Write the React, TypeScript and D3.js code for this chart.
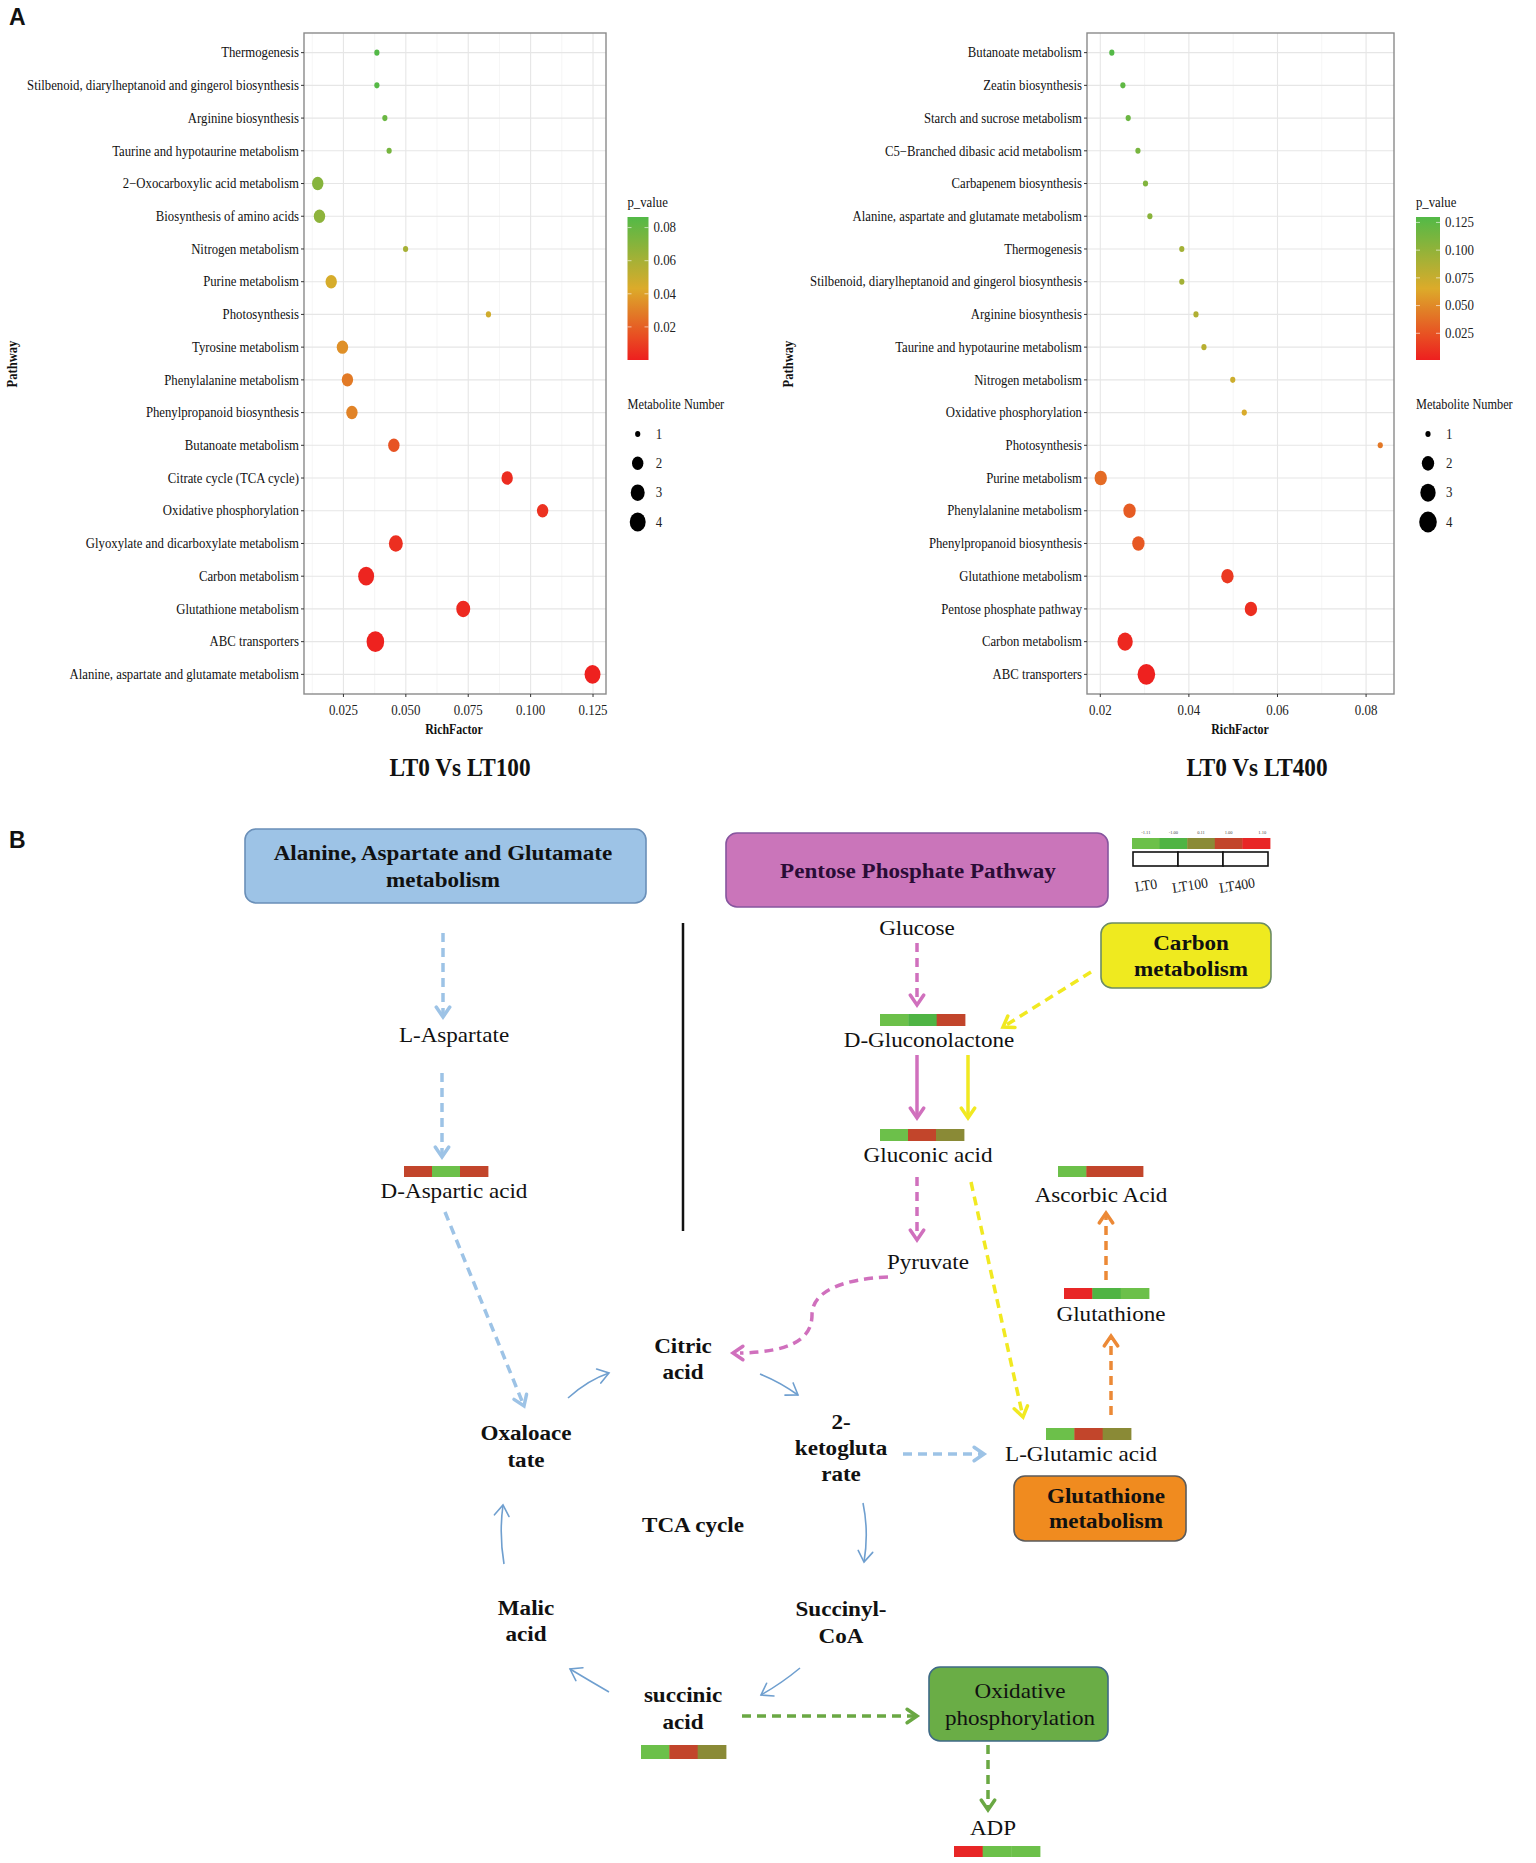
import React from 'react';
import * as d3 from 'd3';

// ---------------- DATA: panel A, LT0 vs LT100 ----------------
const lt100Pathways = [
  'Thermogenesis',
  'Stilbenoid, diarylheptanoid and gingerol biosynthesis',
  'Arginine biosynthesis',
  'Taurine and hypotaurine metabolism',
  '2\u2212Oxocarboxylic acid metabolism',
  'Biosynthesis of amino acids',
  'Nitrogen metabolism',
  'Purine metabolism',
  'Photosynthesis',
  'Tyrosine metabolism',
  'Phenylalanine metabolism',
  'Phenylpropanoid biosynthesis',
  'Butanoate metabolism',
  'Citrate cycle (TCA cycle)',
  'Oxidative phosphorylation',
  'Glyoxylate and dicarboxylate metabolism',
  'Carbon metabolism',
  'Glutathione metabolism',
  'ABC transporters',
  'Alanine, aspartate and glutamate metabolism',
];
const lt100RichFactor = [0.0384, 0.0384, 0.0416, 0.0433, 0.0147, 0.0154, 0.0499, 0.0201, 0.0831, 0.0246,
  0.0266, 0.0284, 0.0452, 0.0906, 0.1048, 0.046, 0.0341, 0.073, 0.0378, 0.1248];
const lt100PValue = [0.086, 0.085, 0.079, 0.075, 0.07, 0.068, 0.06, 0.045, 0.047, 0.035,
  0.028, 0.031, 0.016, 0.004, 0.006, 0.005, 0.002, 0.003, 0.001, 0.0005];
const lt100Count = [1, 1, 1, 1, 2, 2, 1, 2, 1, 2, 2, 2, 2, 2, 2, 3, 4, 3, 5, 4];
const lt100XTicks = [0.025, 0.05, 0.075, 0.1, 0.125];
const lt100PTicks = [0.02, 0.04, 0.06, 0.08];

// ---------------- DATA: panel A, LT0 vs LT400 ----------------
const lt400Pathways = [
  'Butanoate metabolism',
  'Zeatin biosynthesis',
  'Starch and sucrose metabolism',
  'C5\u2212Branched dibasic acid metabolism',
  'Carbapenem biosynthesis',
  'Alanine, aspartate and glutamate metabolism',
  'Thermogenesis',
  'Stilbenoid, diarylheptanoid and gingerol biosynthesis',
  'Arginine biosynthesis',
  'Taurine and hypotaurine metabolism',
  'Nitrogen metabolism',
  'Oxidative phosphorylation',
  'Photosynthesis',
  'Purine metabolism',
  'Phenylalanine metabolism',
  'Phenylpropanoid biosynthesis',
  'Glutathione metabolism',
  'Pentose phosphate pathway',
  'Carbon metabolism',
  'ABC transporters',
];
const lt400RichFactor = [0.0226, 0.0251, 0.0263, 0.0285, 0.0302, 0.0312, 0.0384, 0.0384, 0.0416, 0.0434,
  0.0499, 0.0525, 0.0832, 0.0201, 0.0266, 0.0286, 0.0487, 0.054, 0.0256, 0.0304];
const lt400PValue = [0.129, 0.124, 0.118, 0.112, 0.108, 0.104, 0.092, 0.092, 0.086, 0.082,
  0.073, 0.067, 0.042, 0.036, 0.029, 0.027, 0.013, 0.008, 0.005, 0.002];
const lt400Count = [1, 1, 1, 1, 1, 1, 1, 1, 1, 1, 1, 1, 1, 2, 2, 2, 2, 2, 3, 4];
const lt400XTicks = [0.02, 0.04, 0.06, 0.08];
const lt400PTicks = [0.025, 0.05, 0.075, 0.1, 0.125];

const legendCounts = [1, 2, 3, 4];

// ---------------- DATA: panel B heat bars ----------------
const heatGroups = ['LT0', 'LT100', 'LT400'];
const heatLegendLabels = ['-1.11', '-1.00', '0.11', '1.00', '1.10'];
const metaboliteNames = ['D-Aspartic acid', 'D-Gluconolactone', 'Gluconic acid', 'Ascorbic Acid',
  'Glutathione', 'L-Glutamic acid', 'succinic acid', 'ADP'];
const metaboliteLT0 = [0.6, -0.9, -0.9, -0.9, 0.9, -0.9, -0.9, 0.9];
const metaboliteLT100 = [-0.9, -0.5, 0.5, 0.5, -0.5, 0.5, 0.5, -0.9];
const metaboliteLT400 = [0.6, 0.5, 0.0, 0.5, -0.9, 0.0, 0.0, -0.9];

// ---------------- STYLE ----------------
const SERIF = '"Liberation Serif", "Times New Roman", Times, serif';
const SANS = '"Liberation Sans", Arial, Helvetica, sans-serif';
const P_LOW = '#ee1f1f';
const P_MID = '#dcab2a';
const P_HIGH = '#52b947';
const heatColors = ['#6cc04a', '#4fb444', '#8a8a36', '#c2452b', '#e82626'];

function T({ x, y, children, size = 14, sx = 1, sy = 1, anchor = 'middle', bold = false, fill = '#111',
  family = SERIF, rotate = 0 }: any) {
  return (
    <text transform={`translate(${x},${y})${rotate ? ` rotate(${rotate})` : ''} scale(${sx},${sy})`}
      textAnchor={anchor} dominantBaseline="central" fontFamily={family} fontWeight={bold ? 'bold' : 'normal'}
      fontSize={size} fill={fill}>{children}</text>
  );
}

function DotPanel(p: any) {
  const x = d3.scaleLinear().domain(p.xDomain).range([p.left, p.right]);
  const y = d3.scalePoint<string>().domain(p.pathways).range([p.top, p.bottom]).padding(0.6);
  const pMid = (p.pDomain[0] + p.pDomain[1]) / 2;
  const color = d3.scaleLinear<string>().domain([p.pDomain[0], pMid, p.pDomain[1]])
    .range([P_LOW, P_MID, P_HIGH]).clamp(true);
  const maxCount = d3.max(p.count as number[]) as number;
  const size = d3.scaleSqrt().domain([0, maxCount - 1]).range([1, 6]);
  const rx = (c: number) => 1.36 + 1.24 * size(c - 1);
  const ASP = 1.18;
  const step = p.xTicks[1] - p.xTicks[0];
  const minor = d3.range(p.xTicks[0] - step / 2, p.xDomain[1], step).filter((v: number) => v > p.xDomain[0]);
  const cb = d3.scaleLinear().domain(p.pDomain).range([p.cbBottom, p.cbTop]);
  const stops = d3.range(0, 1.0001, 0.05);
  const gid = 'grad-' + p.id;
  const data = p.pathways.map((name: string, i: number) => ({
    name, rf: p.rich[i], pv: p.pval[i], n: p.count[i],
  }));
  const legY = d3.scalePoint<number>().domain(legendCounts).range([434, 522]);
  const FS = 14;
  const SX = 0.91;
  return (
    <g>
      <defs>
        <linearGradient id={gid} x1="0" y1="1" x2="0" y2="0">
          {stops.map((t: number) => (
            <stop key={t} offset={t} stopColor={color(p.pDomain[0] + t * (p.pDomain[1] - p.pDomain[0]))} />
          ))}
        </linearGradient>
      </defs>
      <rect x={p.left} y={p.top} width={p.right - p.left} height={p.bottom - p.top} fill="#fff" />
      {minor.map((v: number) => (
        <line key={'mi' + v} x1={x(v)} x2={x(v)} y1={p.top} y2={p.bottom} stroke="#f3f3f3" strokeWidth={0.8} />
      ))}
      {p.xTicks.map((v: number) => (
        <line key={'mj' + v} x1={x(v)} x2={x(v)} y1={p.top} y2={p.bottom} stroke="#e6e6e6" strokeWidth={1.1} />
      ))}
      {p.pathways.map((c: string) => (
        <line key={'hg' + c} x1={p.left} x2={p.right} y1={y(c)} y2={y(c)} stroke="#e6e6e6" strokeWidth={1.1} />
      ))}
      {data.map((d: any) => (
        <ellipse key={'pt' + d.name} cx={x(d.rf)} cy={y(d.name)} rx={rx(d.n)} ry={rx(d.n) * ASP}
          fill={color(d.pv)} />
      ))}
      <rect x={p.left} y={p.top} width={p.right - p.left} height={p.bottom - p.top} fill="none"
        stroke="#8a8a8a" strokeWidth={1.4} />
      {p.pathways.map((c: string) => (
        <g key={'yt' + c}>
          <line x1={p.left - 3} x2={p.left} y1={y(c)} y2={y(c)} stroke="#333" strokeWidth={1} />
          <T x={p.left - 5} y={y(c)} anchor="end" size={FS} sx={SX}>{c}</T>
        </g>
      ))}
      {p.xTicks.map((v: number) => (
        <g key={'xt' + v}>
          <line x1={x(v)} x2={x(v)} y1={p.bottom} y2={p.bottom + 3} stroke="#333" strokeWidth={1} />
          <T x={x(v)} y={p.bottom + 16} size={14.5} sx={0.89} fill="#222">{d3.format(p.xFmt)(v)}</T>
        </g>
      ))}
      <T x={p.richX} y={729} bold size={14} sx={0.85}>RichFactor</T>
      <T x={p.pathX} y={364} bold size={14} sx={0.9} rotate={-90}>Pathway</T>
      <T x={p.titleX} y={767} bold size={25} sx={0.93}>{p.title}</T>
      {/* colour bar */}
      <T x={p.cbX} y={202} anchor="start" size={FS} sx={SX}>p_value</T>
      <rect x={p.cbX} y={p.cbTop} width={p.cbW} height={p.cbBottom - p.cbTop} fill={`url(#${gid})`} />
      {p.pTicks.map((v: number) => (
        <g key={'pt' + v}>
          <line x1={p.cbX} x2={p.cbX + 4} y1={cb(v)} y2={cb(v)} stroke="#fff" strokeOpacity={0.6} />
          <line x1={p.cbX + p.cbW - 4} x2={p.cbX + p.cbW} y1={cb(v)} y2={cb(v)} stroke="#fff" strokeOpacity={0.6} />
          <T x={p.cbX + p.cbW + 5} y={cb(v)} anchor="start" size={14.5} sx={0.89} fill="#222">{d3.format(p.pFmt)(v)}</T>
        </g>
      ))}
      {/* size legend */}
      <T x={p.cbX} y={404} anchor="start" size={FS} sx={0.88}>Metabolite Number</T>
      {legendCounts.map((c) => (
        <g key={'lg' + c}>
          <ellipse cx={p.legX} cy={legY(c)} rx={rx(c)} ry={rx(c) * ASP} fill="#000" />
          <T x={p.legX + 18} y={legY(c)} anchor="start" size={14.5} sx={0.89} fill="#222">{c}</T>
        </g>
      ))}
    </g>
  );
}

function chevron(tx: number, ty: number, ang: number, len: number, spread: number) {
  const a1 = ang + Math.PI - spread;
  const a2 = ang + Math.PI + spread;
  return `M${tx + len * Math.cos(a1)},${ty + len * Math.sin(a1)}L${tx},${ty}L${tx + len * Math.cos(a2)},${ty + len * Math.sin(a2)}`;
}

type ArrowSpec = { d: string; tip: [number, number]; from: [number, number]; color: string; w: number; dash?: string; head?: number };

function Arrow({ a }: { a: ArrowSpec }) {
  const ang = Math.atan2(a.tip[1] - a.from[1], a.tip[0] - a.from[0]);
  const head = a.head ?? 12;
  return (
    <g>
      <path d={a.d} fill="none" stroke={a.color} strokeWidth={a.w} strokeDasharray={a.dash} strokeLinecap="butt" />
      <path d={chevron(a.tip[0], a.tip[1], ang, head, 0.6)} fill="none" stroke={a.color} strokeWidth={a.w}
        strokeLinejoin="miter" strokeLinecap="round" />
    </g>
  );
}

function straight(x1: number, y1: number, x2: number, y2: number, color: string, w: number, dash?: string, head?: number): ArrowSpec {
  const ang = Math.atan2(y2 - y1, x2 - x1);
  const ex = x2 - Math.cos(ang) * w * 0.8;
  const ey = y2 - Math.sin(ang) * w * 0.8;
  return { d: `M${x1},${y1}L${ex},${ey}`, tip: [x2, y2], from: [x1, y1], color, w, dash, head };
}

const BFS = 21;
const BSX = 1.1;

function Label({ x, y, lines, bold, lh = 26.5, color = '#111' }: any) {
  return (
    <g>
      {lines.map((t: string, i: number) => (
        <T key={i} x={x} y={y + i * lh} bold={bold} size={BFS} sx={BSX} fill={color}>{t}</T>
      ))}
    </g>
  );
}

function Box({ x0, y0, x1, y1, fill, stroke, lines, tx, ty, bold, color = '#111', lh = 26 }: any) {
  return (
    <g>
      <rect x={x0} y={y0} width={x1 - x0} height={y1 - y0} rx={11} ry={11} fill={fill} stroke={stroke} strokeWidth={1.6} />
      {lines.map((t: string, i: number) => (
        <T key={i} x={tx} y={ty + i * lh} bold={bold} size={BFS} sx={BSX} fill={color}>{t}</T>
      ))}
    </g>
  );
}

const heatLayout: Record<string, [number, number, number, number]> = {
  'D-Aspartic acid': [404, 1166, 84, 11],
  'D-Gluconolactone': [880, 1014, 85, 12],
  'Gluconic acid': [880, 1129, 84, 12],
  'Ascorbic Acid': [1058, 1166, 85, 11],
  'Glutathione': [1064, 1288, 85, 11],
  'L-Glutamic acid': [1046, 1428, 85, 12],
  'succinic acid': [641, 1745, 85, 14],
  'ADP': [954, 1846, 86, 11],
};

function HeatBars() {
  const heat = d3.scaleQuantize<string>().domain([-1.1, 1.1]).range(heatColors);
  return (
    <g>
      {metaboliteNames.map((m, i) => {
        const [x0, y0, w, h] = heatLayout[m];
        const band = d3.scaleBand().domain(heatGroups).range([x0, x0 + w]);
        const vals = [metaboliteLT0[i], metaboliteLT100[i], metaboliteLT400[i]];
        return (
          <g key={m}>
            {heatGroups.map((g, j) => (
              <rect key={g} x={band(g)} y={y0} width={(band.bandwidth() as number) + 0.4} height={h} fill={heat(vals[j])} />
            ))}
          </g>
        );
      })}
    </g>
  );
}

function HeatLegend() {
  const strip = d3.scaleBand<number>().domain(d3.range(heatColors.length)).range([1132, 1270]);
  const boxes = d3.scaleBand().domain(heatGroups).range([1133, 1268]);
  const lx = [1146, 1190, 1237];
  return (
    <g>
      {heatColors.map((c, i) => (
        <rect key={c} x={strip(i)} y={838} width={strip.bandwidth() + 0.4} height={11} fill={c} />
      ))}
      {heatLegendLabels.map((t, i) => (
        <text key={t} x={(strip(i) as number) + strip.bandwidth() / 2 + (i === 4 ? 6 : 0)} y={834} textAnchor="middle"
          fontFamily={SERIF} fontSize={4.5} fill="#444">{t}</text>
      ))}
      {heatGroups.map((g) => (
        <rect key={g} x={boxes(g)} y={852} width={boxes.bandwidth()} height={14} fill="#fff" stroke="#111" strokeWidth={1.6} />
      ))}
      {heatGroups.map((g, i) => (
        <T key={'l' + g} x={lx[i]} y={885} rotate={-9} size={14.5} sx={0.95} fill="#222">{g}</T>
      ))}
    </g>
  );
}

function PathwayDiagram() {
  const blue = '#9dc3e6';
  const tca = '#6f9fcf';
  const pink = '#d070bd';
  const yellow = '#f1e921';
  const orange = '#ec8936';
  const green = '#6aa843';
  const D = '9,6';
  const arrows: ArrowSpec[] = [
    straight(443, 933, 443, 1017, blue, 3.5, D),
    straight(442, 1073, 442, 1157, blue, 3.5, D),
    straight(445, 1212, 524, 1406, blue, 3.5, D),
    { d: 'M568,1398 Q588,1380 609,1373', tip: [609, 1373], from: [589, 1379], color: tca, w: 1.6, head: 13 },
    { d: 'M760,1374 Q780,1382 798,1395', tip: [798, 1395], from: [780, 1383], color: tca, w: 1.6, head: 13 },
    straight(903, 1454, 984, 1454, blue, 3.5, D),
    { d: 'M863,1503 Q869,1532 864,1562', tip: [864, 1562], from: [867, 1540], color: tca, w: 1.6, head: 13 },
    { d: 'M800,1668 Q782,1683 761,1695', tip: [761, 1695], from: [780, 1684], color: tca, w: 1.6, head: 13 },
    { d: 'M609,1692 Q590,1681 570,1669', tip: [570, 1669], from: [590, 1680], color: tca, w: 1.6, head: 13 },
    { d: 'M504,1564 Q499,1534 503,1505', tip: [503, 1505], from: [501, 1522], color: tca, w: 1.6, head: 13 },
    straight(917, 943, 917, 1005, pink, 3.5, D),
    straight(917, 1055, 917, 1118, pink, 3.5),
    straight(968, 1055, 968, 1118, yellow, 3.5),
    straight(1091, 972, 1003, 1027, yellow, 3.5, D),
    straight(917, 1177, 917, 1240, pink, 3.5, D),
    straight(971, 1182, 1023, 1417, yellow, 3.5, D),
    { d: 'M888,1277 C845,1279 812,1290 812,1315 C812,1342 785,1352 740,1353', tip: [733, 1353], from: [760, 1353],
      color: pink, w: 3.5, dash: D },
    straight(1111, 1415, 1111, 1336, orange, 3.5, D),
    straight(1106, 1280, 1106, 1213, orange, 3.5, D),
    straight(742, 1716, 917, 1716, green, 3.5, D),
    straight(988, 1745, 988, 1810, green, 3.5, D),
  ];
  return (
    <g>
      <text x={9} y={848} fontFamily={SANS} fontWeight="bold" fontSize={23} fill="#111">B</text>
      <Box x0={245} y0={829} x1={646} y1={903} fill="#9dc3e6" stroke="#6a8fb8" lines={['Alanine, Aspartate and Glutamate', 'metabolism']}
        tx={443} ty={853} bold lh={27} />
      <Box x0={726} y0={833} x1={1108} y1={907} fill="#ca75ba" stroke="#86559e" lines={['Pentose Phosphate Pathway']}
        tx={918} ty={871} bold color="#2a0c36" />
      <Box x0={1101} y0={923} x1={1271} y1={988} fill="#efea1f" stroke="#6c8c64" lines={['Carbon', 'metabolism']}
        tx={1191} ty={943} bold lh={26} />
      <Box x0={1014} y0={1476} x1={1186} y1={1541} fill="#f08b1f" stroke="#5b5b5b" lines={['Glutathione', 'metabolism']}
        tx={1106} ty={1496} bold lh={25} />
      <Box x0={929} y0={1667} x1={1108} y1={1741} fill="#6aad46" stroke="#3f6a86" lines={['Oxidative', 'phosphorylation']}
        tx={1020} ty={1691} lh={26.5} />
      <line x1={683} x2={683} y1={923} y2={1231} stroke="#111" strokeWidth={2.5} />
      {arrows.map((a, i) => <Arrow key={i} a={a} />)}
      <HeatLegend />
      <HeatBars />
      <Label x={454} y={1035} lines={['L-Aspartate']} />
      <Label x={454} y={1191} lines={['D-Aspartic acid']} />
      <Label x={917} y={928} lines={['Glucose']} />
      <Label x={929} y={1040} lines={['D-Gluconolactone']} />
      <Label x={928} y={1155} lines={['Gluconic acid']} />
      <Label x={928} y={1262} lines={['Pyruvate']} />
      <Label x={1101} y={1195} lines={['Ascorbic Acid']} />
      <Label x={1111} y={1314} lines={['Glutathione']} />
      <Label x={1081} y={1454} lines={['L-Glutamic acid']} />
      <Label x={993} y={1828} lines={['ADP']} />
      <Label x={526} y={1433} lines={['Oxaloace', 'tate']} bold lh={27} />
      <Label x={683} y={1346} lines={['Citric', 'acid']} bold lh={26} />
      <Label x={841} y={1422} lines={['2-', 'ketogluta', 'rate']} bold lh={25.7} />
      <Label x={693} y={1525} lines={['TCA cycle']} bold />
      <Label x={841} y={1609} lines={['Succinyl-', 'CoA']} bold lh={27} />
      <Label x={526} y={1608} lines={['Malic', 'acid']} bold lh={26} />
      <Label x={683} y={1695} lines={['succinic', 'acid']} bold lh={27} />
    </g>
  );
}

export default function App() {
  return (
    <svg width={1536} height={1863} viewBox="0 0 1536 1863"
      style={{ position: 'absolute', left: 0, top: 0, display: 'block', background: '#fff' }}>
      <rect x={0} y={0} width={1536} height={1863} fill="#fff" />
      <text x={9} y={25} fontFamily={SANS} fontWeight="bold" fontSize={23} fill="#111">A</text>
      <DotPanel id="lt100" pathways={lt100Pathways} rich={lt100RichFactor} pval={lt100PValue} count={lt100Count}
        left={304} right={606} top={33} bottom={694} xDomain={[0.0092, 0.1302]} xTicks={lt100XTicks} xFmt=".3f"
        pDomain={[0, 0.0864]} pTicks={lt100PTicks} pFmt=".2f" cbX={627.5} cbW={21} cbTop={217} cbBottom={360}
        legX={637.7} richX={454} pathX={12} titleX={460} title="LT0 Vs LT100" />
      <DotPanel id="lt400" pathways={lt400Pathways} rich={lt400RichFactor} pval={lt400PValue} count={lt400Count}
        left={1087} right={1394} top={33} bottom={694} xDomain={[0.017, 0.0863]} xTicks={lt400XTicks} xFmt=".2f"
        pDomain={[0.0009, 0.1299]} pTicks={lt400PTicks} pFmt=".3f" cbX={1416} cbW={24} cbTop={217} cbBottom={360}
        legX={1428} richX={1240} pathX={788} titleX={1257} title="LT0 Vs LT400" />
      <PathwayDiagram />
    </svg>
  );
}
